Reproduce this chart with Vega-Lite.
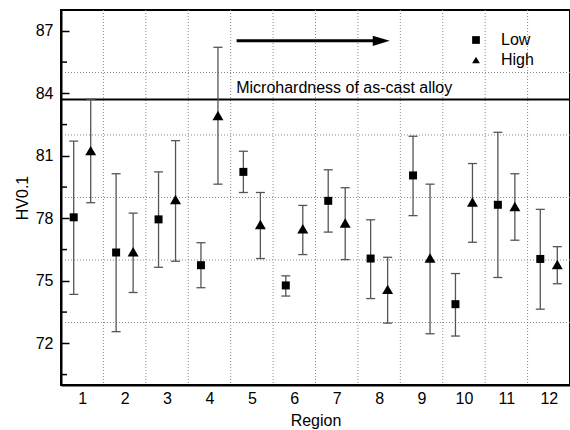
{
  "$schema": "https://vega.github.io/schema/vega-lite/v6.json",
  "width": 509,
  "height": 375,
  "autosize": {"type": "none"},
  "padding": {"left": 61, "top": 10, "right": 0, "bottom": 45},
  "background": "white",
  "config": {"view": {"stroke": "black", "strokeWidth": 2}, "font": "Liberation Sans", "axis": {"grid": false}},
  "datasets": {
    "hv": [
      {"region": 1, "series": "Low", "mean": 78.05, "lo": 74.35, "hi": 81.71},
      {"region": 1, "series": "High", "mean": 81.25, "lo": 78.75, "hi": 83.72},
      {"region": 2, "series": "Low", "mean": 76.36, "lo": 72.56, "hi": 80.14},
      {"region": 2, "series": "High", "mean": 76.4, "lo": 74.44, "hi": 78.25},
      {"region": 3, "series": "Low", "mean": 77.95, "lo": 75.65, "hi": 80.23},
      {"region": 3, "series": "High", "mean": 78.9, "lo": 75.94, "hi": 81.73},
      {"region": 4, "series": "Low", "mean": 75.75, "lo": 74.67, "hi": 76.83},
      {"region": 4, "series": "High", "mean": 82.94, "lo": 79.64, "hi": 86.21},
      {"region": 5, "series": "Low", "mean": 80.23, "lo": 79.24, "hi": 81.22},
      {"region": 5, "series": "High", "mean": 77.7, "lo": 76.07, "hi": 79.24},
      {"region": 6, "series": "Low", "mean": 74.78, "lo": 74.27, "hi": 75.24},
      {"region": 6, "series": "High", "mean": 77.5, "lo": 76.26, "hi": 78.62},
      {"region": 7, "series": "Low", "mean": 78.84, "lo": 77.34, "hi": 80.33},
      {"region": 7, "series": "High", "mean": 77.78, "lo": 76.02, "hi": 79.47},
      {"region": 8, "series": "Low", "mean": 76.07, "lo": 74.15, "hi": 77.93},
      {"region": 8, "series": "High", "mean": 74.59, "lo": 72.97, "hi": 76.13},
      {"region": 9, "series": "Low", "mean": 80.06, "lo": 78.13, "hi": 81.94},
      {"region": 9, "series": "High", "mean": 76.1, "lo": 72.46, "hi": 79.64},
      {"region": 10, "series": "Low", "mean": 73.88, "lo": 72.35, "hi": 75.35},
      {"region": 10, "series": "High", "mean": 78.78, "lo": 76.85, "hi": 80.63},
      {"region": 11, "series": "Low", "mean": 78.65, "lo": 75.16, "hi": 82.13},
      {"region": 11, "series": "High", "mean": 78.57, "lo": 76.95, "hi": 80.14},
      {"region": 12, "series": "Low", "mean": 76.05, "lo": 73.64, "hi": 78.43},
      {"region": 12, "series": "High", "mean": 75.78, "lo": 74.86, "hi": 76.64}
    ],
    "hgrid": [{"v": 73}, {"v": 76}, {"v": 79}, {"v": 82}, {"v": 85}],
    "vgrid": [{"v": 1.5}, {"v": 2.5}, {"v": 3.5}, {"v": 4.5}, {"v": 5.5}, {"v": 6.5}, {"v": 7.5}, {"v": 8.5}, {"v": 9.5}, {"v": 10.5}, {"v": 11.5}],
    "minor": [{"v": 70.5}, {"v": 73.5}, {"v": 76.5}, {"v": 79.5}, {"v": 82.5}, {"v": 85.5}],
    "ref": [{"v": 83.7}],
    "note": [{"x": 4.63, "y": 84.0, "text": "Microhardness of as-cast alloy"}],
    "arrow": [{"x": 4.64, "x2": 7.9, "y": 86.52}],
    "head": [{"x": 8.05, "y": 86.52}]
  },
  "layer": [
    {
      "data": {"name": "hgrid"},
      "mark": {"type": "rule", "color": "#8a8a8a", "strokeDash": [1, 2], "strokeWidth": 1},
      "encoding": {"y": {"field": "v", "type": "quantitative", "title": "HV0.1", "scale": {"domain": [70, 88], "zero": false, "nice": false}}}
    },
    {
      "data": {"name": "vgrid"},
      "mark": {"type": "rule", "color": "#8a8a8a", "strokeDash": [1, 2], "strokeWidth": 1},
      "encoding": {"x": {"field": "v", "type": "quantitative", "title": "Region", "scale": {"domain": [0.5, 12.5], "zero": false, "nice": false}}}
    },
    {
      "data": {"name": "minor"},
      "mark": {"type": "tick", "orient": "horizontal", "size": 5, "thickness": 1.5, "color": "black", "opacity": 1, "xOffset": 3.5},
      "encoding": {
        "x": {"datum": 0.5, "type": "quantitative", "title": "Region"},
        "y": {"field": "v", "type": "quantitative", "title": "HV0.1"}
      }
    },
    {
      "data": {"name": "ref"},
      "mark": {"type": "rule", "color": "black", "strokeWidth": 2},
      "encoding": {"y": {"field": "v", "type": "quantitative", "title": "HV0.1"}}
    },
    {
      "data": {"name": "note"},
      "mark": {"type": "text", "align": "left", "baseline": "alphabetic", "fontSize": 16, "color": "black", "font": "Liberation Sans"},
      "encoding": {
        "x": {"field": "x", "type": "quantitative", "title": "Region"},
        "y": {"field": "y", "type": "quantitative", "title": "HV0.1"},
        "text": {"field": "text"}
      }
    },
    {
      "data": {"name": "arrow"},
      "mark": {"type": "rule", "color": "black", "strokeWidth": 3},
      "encoding": {
        "x": {"field": "x", "type": "quantitative", "title": "Region"},
        "x2": {"field": "x2"},
        "y": {"field": "y", "type": "quantitative", "title": "HV0.1"}
      }
    },
    {
      "data": {"name": "head"},
      "mark": {"type": "point", "shape": "M-1,-0.6L1,0L-1,0.6Z", "size": 289, "filled": true, "color": "black", "opacity": 1},
      "encoding": {
        "x": {"field": "x", "type": "quantitative", "title": "Region"},
        "y": {"field": "y", "type": "quantitative", "title": "HV0.1"}
      }
    },
    {
      "data": {"name": "hv"},
      "transform": [{"filter": "datum.series == 'Low'"}],
      "mark": {"type": "rule", "color": "#555555", "strokeWidth": 1.3, "xOffset": -8.5},
      "encoding": {
        "x": {"field": "region", "type": "quantitative", "title": "Region"},
        "y": {"field": "lo", "type": "quantitative", "title": "HV0.1"},
        "y2": {"field": "hi"}
      }
    },
    {
      "data": {"name": "hv"},
      "transform": [{"filter": "datum.series == 'High'"}],
      "mark": {"type": "rule", "color": "#555555", "strokeWidth": 1.3, "xOffset": 8.5},
      "encoding": {
        "x": {"field": "region", "type": "quantitative", "title": "Region"},
        "y": {"field": "lo", "type": "quantitative", "title": "HV0.1"},
        "y2": {"field": "hi"}
      }
    },
    {
      "data": {"name": "hv"},
      "transform": [{"filter": "datum.series == 'Low'"}, {"fold": ["lo", "hi"], "as": ["end", "val"]}],
      "mark": {"type": "tick", "orient": "horizontal", "size": 9, "thickness": 1.3, "color": "#555555", "opacity": 1, "xOffset": -8.5},
      "encoding": {
        "x": {"field": "region", "type": "quantitative", "title": "Region"},
        "y": {"field": "val", "type": "quantitative", "title": "HV0.1"}
      }
    },
    {
      "data": {"name": "hv"},
      "transform": [{"filter": "datum.series == 'High'"}, {"fold": ["lo", "hi"], "as": ["end", "val"]}],
      "mark": {"type": "tick", "orient": "horizontal", "size": 9, "thickness": 1.3, "color": "#555555", "opacity": 1, "xOffset": 8.5},
      "encoding": {
        "x": {"field": "region", "type": "quantitative", "title": "Region"},
        "y": {"field": "val", "type": "quantitative", "title": "HV0.1"}
      }
    },
    {
      "data": {"name": "hv"},
      "transform": [{"filter": "datum.series == 'Low'"}],
      "mark": {"type": "point", "filled": true, "color": "black", "opacity": 1, "size": 64, "xOffset": -8.5},
      "encoding": {
        "x": {"field": "region", "type": "quantitative", "title": "Region"},
        "y": {"field": "mean", "type": "quantitative", "title": "HV0.1"},
        "shape": {"field": "series", "type": "nominal", "scale": {"domain": ["Low", "High"], "range": ["square", "triangle-up"]}}
      }
    },
    {
      "data": {"name": "hv"},
      "transform": [{"filter": "datum.series == 'High'"}],
      "mark": {"type": "point", "filled": true, "color": "black", "opacity": 1, "size": 120, "xOffset": 8.5},
      "encoding": {
        "x": {
          "field": "region", "type": "quantitative", "title": "Region",
          "axis": {"values": [1, 2, 3, 4, 5, 6, 7, 8, 9, 10, 11, 12], "format": "d", "ticks": false, "grid": false, "labelAngle": 0, "labelPadding": 5, "labelFontSize": 16, "labelColor": "black", "labelFont": "Liberation Sans", "domainColor": "black", "domainWidth": 2, "title": "Region", "titleFontSize": 16, "titleFontWeight": "normal", "titleColor": "black", "titleFont": "Liberation Sans", "titlePadding": 6}
        },
        "y": {
          "field": "mean", "type": "quantitative", "title": "HV0.1",
          "axis": {"values": [72, 75, 78, 81, 84, 87], "format": "d", "tickSize": -8, "tickColor": "black", "tickWidth": 1.5, "grid": false, "domainColor": "black", "domainWidth": 2, "labelFontSize": 16, "labelColor": "black", "labelFont": "Liberation Sans", "labelPadding": 16, "title": "HV0.1", "titleFontSize": 16, "titleFontWeight": "normal", "titleColor": "black", "titleFont": "Liberation Sans", "titlePadding": 5}
        },
        "shape": {
          "field": "series", "type": "nominal", "scale": {"domain": ["Low", "High"], "range": ["square", "triangle-up"]},
          "legend": {"title": null, "orient": "none", "legendX": 407, "legendY": 22, "labelFontSize": 16, "labelColor": "black", "labelFont": "Liberation Sans", "symbolSize": 60, "symbolFillColor": "black", "symbolStrokeWidth": 0, "labelOffset": 17, "rowPadding": 4}
        }
      }
    }
  ]
}
